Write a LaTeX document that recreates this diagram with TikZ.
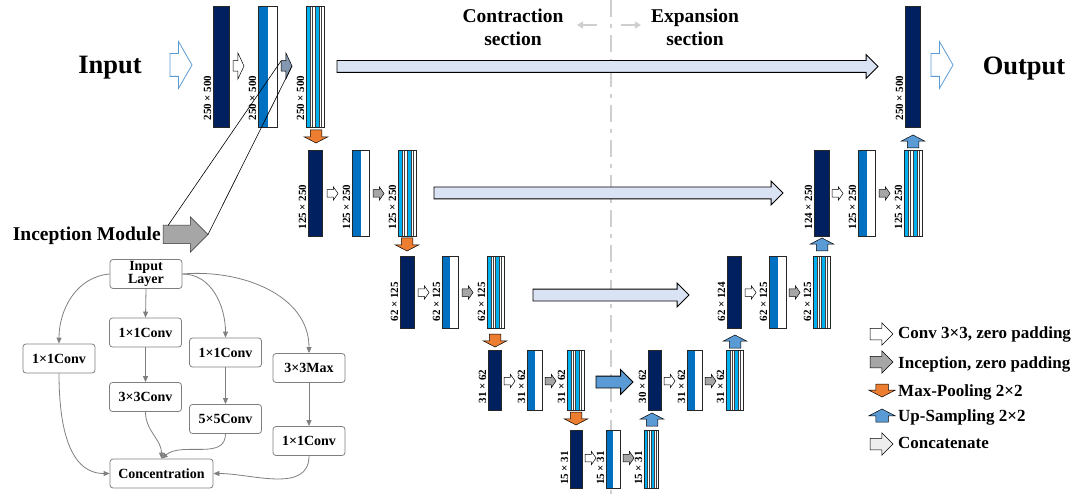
\documentclass[tikz,border=0pt]{standalone}
\usepackage{fontspec}
\setmainfont{Liberation Serif}
\usetikzlibrary{shapes.arrows,arrows.meta,calc}

\definecolor{navy}{HTML}{002060}
\definecolor{midblue}{HTML}{0070C0}
\definecolor{ucyan}{HTML}{00B0F0}
\definecolor{skipfill}{HTML}{DAE3F3}
\definecolor{poolorange}{HTML}{ED7D31}
\definecolor{upblue}{HTML}{5B9BD5}
\definecolor{incgray}{HTML}{A6A6A6}
\definecolor{slategray}{HTML}{8497B0}
\definecolor{boxgray}{HTML}{7F7F7F}
\definecolor{dashgray}{HTML}{CFCFCF}

\tikzset{
  blk/.style={draw=black!85, line width=0.5pt, inner sep=0pt, outer sep=0pt},
  darkblk/.style={blk, fill=navy},
  halfblk/.style={blk, fill=white, path picture={
      \fill[midblue] (path picture bounding box.south west) rectangle (path picture bounding box.north);}},
  stripblk/.style={blk, fill=white, path picture={
      \foreach \a/\b in {0/.22,.5/.72}
        \fill[ucyan] ($(path picture bounding box.south west)!\a!(path picture bounding box.south east)$)
          rectangle ($(path picture bounding box.north west)!\b!(path picture bounding box.north east)$);
      \foreach \a in {.22,.36,.5,.72,.84}
        \draw[black!75, line width=0.4pt] ($(path picture bounding box.south west)!\a!(path picture bounding box.south east)$)
          -- ($(path picture bounding box.north west)!\a!(path picture bounding box.north east)$);}},
  row1/.style={minimum height=121pt},
  row2/.style={minimum height=86pt},
  row3/.style={minimum height=72pt},
  row4/.style={minimum height=60pt},
  row5/.style={minimum height=58pt},
  dimlabel/.style={yshift=#1, rotate=90, anchor=south west, inner sep=1.5pt,
    font=\fontsize{11}{12}\selectfont\bfseries},
  dimlabel/.default=5pt,
  % shaft half width = inner ysep, head = shaft + 2 x extend; placed by the tip
  arr/.style={single arrow, anchor=tip, inner xsep=0pt, outer sep=0pt, minimum width=0pt, line width=0.5pt, draw=black},
  convarr/.style={arr, fill=white, minimum height=11pt, inner ysep=3.5pt,
    single arrow head extend=3pt, single arrow tip angle=110},
  incarr/.style={convarr, fill=incgray},
  bigarr/.style={inner ysep=5pt, single arrow head extend=8pt, single arrow tip angle=130},
  poolarr/.style={arr, fill=poolorange, rotate=-90, minimum height=13pt, inner ysep=5.5pt,
    single arrow head extend=6pt, single arrow tip angle=125},
  uparr/.style={poolarr, fill=upblue, rotate=180},
  skiparr/.style={arr, fill=skipfill, line width=0.8pt, inner ysep=5.5pt, single arrow head extend=6pt},
  ioarr/.style={arr, draw=upblue, fill=white, line width=0.8pt, minimum height=22pt, inner ysep=11pt,
    single arrow head extend=12pt, single arrow tip angle=120},
  legarr/.style={arr, minimum height=23pt, inner ysep=5.5pt, single arrow head extend=5.5pt},
  legpool/.style={arr, rotate=-90, minimum height=13pt, inner ysep=6pt,
    single arrow head extend=7pt, single arrow tip angle=125},
  bigtext/.style={font=\fontsize{26.5}{30}\selectfont\bfseries, inner sep=0pt},
  sectitle/.style={font=\fontsize{19.5}{23}\selectfont\bfseries, align=center, inner sep=0pt},
  legtext/.style={font=\fontsize{17}{20}\selectfont\bfseries, anchor=base west, inner sep=0pt},
  secarr/.style={dashgray, line width=2pt, -{Triangle[length=6pt,width=7pt]}},
  incbox/.style={draw=boxgray, rounded corners=3pt, line width=0.8pt, minimum width=72pt,
    minimum height=29pt, inner sep=1pt, align=center, font=\fontsize{14}{13}\selectfont\bfseries},
  incline/.style={boxgray, line width=0.8pt, -{Triangle[length=6pt,width=5pt]}},
}

\begin{document}
\begin{tikzpicture}[x=1pt,y=-1pt]
\useasboundingbox (0,0) rectangle (1086,494);

% Section divider
\draw[dashgray, line width=2.4pt, dash pattern=on 17pt off 7pt on 4pt off 7pt] (611,0) -- (611,494);
\coordinate (cl0) at (597,25); \coordinate (cl1) at (577,25);
\coordinate (cr0) at (621,25); \coordinate (cr1) at (641,25);
\draw[secarr] (cl0) -- (cl1);
\draw[secarr] (cr0) -- (cr1);
\node[sectitle] (contr) at (513,27) {Contraction\\section};
\node[sectitle] (expan) at (695,27) {Expansion\\section};

% Input and output
\node[bigtext, anchor=base] (inp) at (110,74) {Input};
\node[ioarr] (inarr) at (192,65) {};
\node[ioarr] (outarr) at (953,65) {};
\node[bigtext, anchor=base] (outp) at (1024,75) {Output};

% Level 1
\node[darkblk, row1, minimum width=16pt] (l1a) at (221,66.5) {};
\node[halfblk, row1, minimum width=19pt] (l1b) at (267.5,66.5) {};
\node[stripblk, row1, minimum width=18pt] (l1c) at (315,66.5) {};
\node[darkblk, row1, minimum width=15pt] (out) at (912.5,66.5) {};

% Level 2
\node[darkblk, row2, minimum width=14pt] (l2a) at (315,193) {};
\node[halfblk, row2, minimum width=17pt] (l2b) at (360.5,193) {};
\node[stripblk, row2, minimum width=18pt] (l2c) at (407,193) {};
\node[darkblk, row2, minimum width=15pt] (r2a) at (821.5,193) {};
\node[halfblk, row2, minimum width=17pt] (r2b) at (866.5,193) {};
\node[stripblk, row2, minimum width=18pt] (r2c) at (913,193) {};

% Level 3
\node[darkblk, row3, minimum width=14pt] (l3a) at (407,292) {};
\node[halfblk, row3, minimum width=16pt] (l3b) at (450,292) {};
\node[stripblk, row3, minimum width=17pt] (l3c) at (495.5,292) {};
\node[darkblk, row3, minimum width=14pt] (r3a) at (734,292) {};
\node[halfblk, row3, minimum width=17pt] (r3b) at (777.5,292) {};
\node[stripblk, row3, minimum width=17pt] (r3c) at (821.5,292) {};

% Level 4
\node[darkblk, row4, minimum width=13pt] (l4a) at (494.5,380) {};
\node[halfblk, row4, minimum width=15pt] (l4b) at (534.5,380) {};
\node[stripblk, row4, minimum width=17pt] (l4c) at (575.5,380) {};
\node[darkblk, row4, minimum width=13pt] (r4a) at (654.5,380) {};
\node[halfblk, row4, minimum width=15pt] (r4b) at (694.5,380) {};
\node[stripblk, row4, minimum width=17pt] (r4c) at (734.5,380) {};

% Level 5
\node[darkblk, row5, minimum width=12pt] (b5a) at (576,459) {};
\node[halfblk, row5, minimum width=14pt] (b5b) at (613,459) {};
\node[stripblk, row5, minimum width=14pt] (b5c) at (651,459) {};

% Sizes
\foreach \b/\t in {l1a/250 × 500, l1b/250 × 500, l1c/250 × 500, out/250 × 500,
    l2a/125 × 250, l2b/125 × 250, l2c/125 × 250, r2a/124 × 250, r2b/125 × 250, r2c/125 × 250,
    l3a/62 × 125, l3b/62 × 125, l3c/62 × 125, r3a/62 × 124, r3b/62 × 125, r3c/62 × 125,
    l4a/31 × 62, l4b/31 × 62, l4c/31 × 62, r4a/30 × 62, r4b/31 × 62, r4c/31 × 62}
  \node[dimlabel] (\b-dim) at (\b.south west) {\t};
\foreach \b in {b5a,b5b,b5c}
  \node[dimlabel=1.5pt] (\b-dim) at (\b.south west) {15 × 31};

% Skip connections
\node[skiparr, minimum height=541pt] (skip1) at (878,66.5) {};
\node[skiparr, minimum height=349pt] (skip2) at (783,193) {};
\node[skiparr, minimum height=156pt] (skip3) at (689,295) {};
\node[skiparr, fill=upblue, minimum height=37pt, single arrow head extend=6.5pt] (skip4) at (633,382) {};

% Convolutions
\node[convarr, bigarr] (cv1) at (244,66) {};
\node[incarr, bigarr, fill=slategray] (ic1) at (292,66) {};
\foreach \n/\x/\y in {cv2l/338/193.5, cv2r/843/193.5, cv3l/429/292.5, cv3r/756/292.5,
    cv4l/515/381, cv4r/675/381, cv5/596/458}
  \node[convarr] (\n) at (\x,\y) {};
\foreach \n/\x/\y in {ic2l/384/193.5, ic2r/890/193.5, ic3l/473/292.5, ic3r/800/292.5,
    ic4l/556/381, ic4r/716/381, ic5/634/458}
  \node[incarr] (\n) at (\x,\y) {};

% Pooling and up-sampling
\foreach \n/\x/\y in {pl1/316/143, pl2/407/251, pl3/495/347, pl4/576/425}
  \node[poolarr] (\n) at (\x,\y) {};
\foreach \n/\x/\y in {up4/652/413, up3/735/335, up2/822/238, up1/913/135}
  \node[uparr] (\n) at (\x,\y) {};

% Inception module
\node[font=\fontsize{19.5}{22}\selectfont\bfseries, anchor=east, inner sep=0pt] (inctext) at (161,236) {Inception Module};
\node[arr, fill=incgray, draw=black!80, minimum height=45pt, inner ysep=9pt,
  single arrow head extend=8.5pt] (incbig) at (208,234.5) {};
\draw[line width=0.6pt] ($(incbig.tip)+(-40,-9)$) -- ($(ic1.tip)+(-11,-5)$);
\draw[line width=0.6pt] (incbig.tip) -- (ic1.tip);

\node[incbox] (inl) at (146,274) {Input\\Layer};
\node[incbox] (br1) at (59,358.5) {1×1Conv};
\node[incbox] (br2a) at (145.5,332.5) {1×1Conv};
\node[incbox] (br2b) at (145.5,397) {3×3Conv};
\node[incbox] (br3a) at (225.5,352.5) {1×1Conv};
\node[incbox] (br3b) at (225.5,419) {5×5Conv};
\node[incbox] (br4a) at (309,368) {3×3Max};
\node[incbox] (br4b) at (309,441) {1×1Conv};
\node[incbox, minimum width=103pt] (conc) at (161.5,473.5) {Concentration};

\draw[incline] (inl.west) to[out=185,in=90] (br1.north);
\draw[incline] (inl.south) -- (br2a.north);
\draw[incline] (inl.east) to[out=0,in=90] (br3a.north);
\draw[incline] (inl.east) to[out=5,in=90] (br4a.north);
\draw[incline] (br2a) -- (br2b);
\draw[incline] (br3a) -- (br3b);
\draw[incline] (br4a) -- (br4b);
\draw[incline] (br1.south) to[out=-90,in=180] (conc.west);
\draw[incline] (br2b.south) to[out=-90,in=90] (conc.north);
\draw[incline] (br3b.south) to[out=-90,in=40] (conc.north);
\draw[incline] (br4b.south) to[out=-90,in=0] (conc.east);

% Legend
\node[legarr, fill=white] (lg1) at (893,334) {};
\node[legarr, fill=incgray] (lg2) at (893,362) {};
\node[legpool, fill=poolorange] (lg3) at (882,397) {};
\node[legpool, fill=upblue, rotate=180] (lg4) at (882,409) {};
\node[legarr, fill=black!7] (lg5) at (893,444) {};
\node[legtext] (lt1) at (898,338) {Conv 3×3, zero padding};
\node[legtext] (lt2) at (898,368) {Inception, zero padding};
\node[legtext] (lt3) at (898,396) {Max-Pooling 2×2};
\node[legtext] (lt4) at (898,421) {Up-Sampling 2×2};
\node[legtext] (lt5) at (898,448) {Concatenate};
\end{tikzpicture}
\end{document}
